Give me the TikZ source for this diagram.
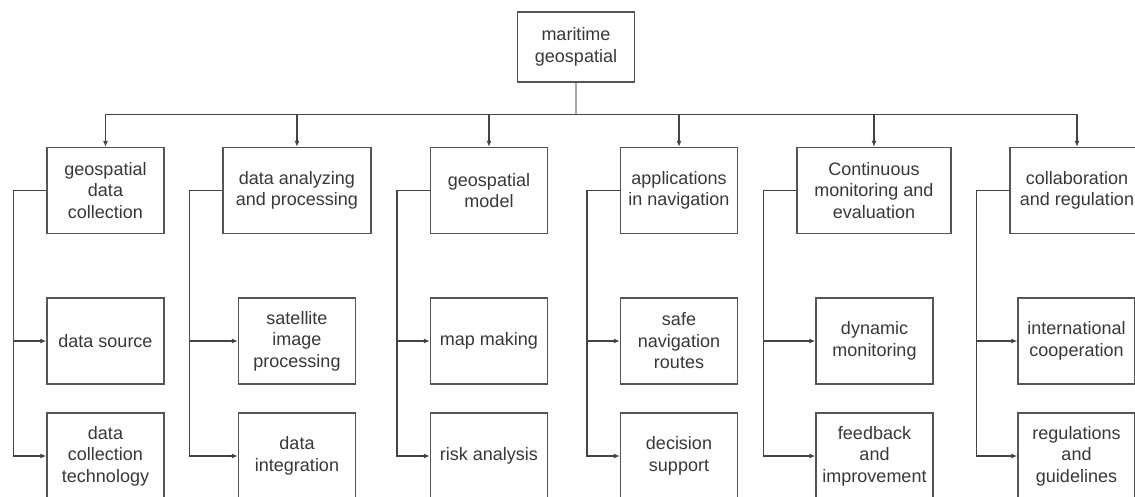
\documentclass[tikz,border=0pt]{standalone}
\usepackage{fontspec}
\setmainfont{Liberation Sans}
\usetikzlibrary{arrows.meta}
\definecolor{boxline}{HTML}{555555}
\definecolor{linegray}{HTML}{444444}
\definecolor{stemgray}{HTML}{A8A8A8}
\definecolor{textgray}{HTML}{383838}

\begin{document}
\begin{tikzpicture}[x=1pt,y=-1pt,
  box/.style={draw=boxline,line width=1.3pt,fill=white,minimum width=117pt,
    minimum height=86pt,inner sep=0pt,align=center,text=textgray,
    font=\fontsize{18}{21.5}\selectfont},
  link/.style={draw=linegray,line width=1.3pt,-{Latex[length=6pt,width=5pt]}}]
  \useasboundingbox (0,0) rectangle (1135,497);
  \clip (0,0) rectangle (1135,497);
  \node[box,minimum height=70pt] (maritime) at (576,47) {maritime\\geospatial};
  % first level
  \node[box] (collect) at (105.5,190.5) {geospatial\\data\\collection};
  \node[box,minimum width=148pt] (analyze) at (297,190.5) {data analyzing\\and processing};
  \node[box] (model) at (489,190.5) {geospatial\\model};
  \node[box] (navig) at (679,190.5) {applications\\in navigation};
  \node[box,minimum width=154pt] (monitor) at (874,190.5) {Continuous\\monitoring and\\evaluation};
  \node[box,minimum width=134pt] (regul) at (1077,190.5) {collaboration\\and regulation};
  % second and third level
  \node[box] (source) at (105.5,341) {data source};
  \node[box] (tech) at (105.5,456) {data\\collection\\technology};
  \node[box] (satellite) at (297,341) {satellite\\image\\processing};
  \node[box] (integr) at (297,456) {data\\integration};
  \node[box] (mapmk) at (489,341) {map making};
  \node[box] (risk) at (489,456) {risk analysis};
  \node[box] (routes) at (679,341) {safe\\navigation\\routes};
  \node[box] (decision) at (679,456) {decision\\support};
  \node[box] (dynamic) at (874.5,341) {dynamic\\monitoring};
  \node[box] (feedback) at (874.5,456) {feedback\\and\\improvement};
  \node[box] (coop) at (1076.5,341) {international\\cooperation};
  \node[box] (rules) at (1076.5,456) {regulations\\and\\guidelines};

  \draw[stemgray,line width=1.3pt] (maritime.south) -- ++(0,32) coordinate (busmid);
  \foreach \top/\first/\second in {collect/source/tech,analyze/satellite/integr,
    model/mapmk/risk,navig/routes/decision,monitor/dynamic/feedback,regul/coop/rules}{
    \draw[link] (busmid) -| (\top.north);
    \draw[link] (\top.west) -- ++(-33,0) |- (\first.west);
    \draw[link] (\top.west) -- ++(-33,0) |- (\second.west);
  }
\end{tikzpicture}
\end{document}
